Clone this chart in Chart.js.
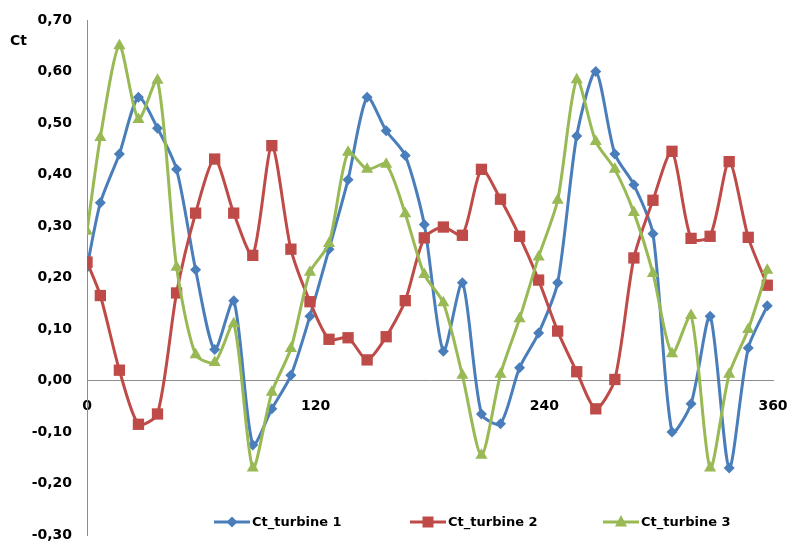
<!DOCTYPE html>
<html>
<head>
<meta charset="utf-8">
<script src="https://cdn.jsdelivr.net/npm/chart.js@4.4.1/dist/chart.umd.min.js"></script>
<style>
    html, body { margin: 0; padding: 0; background: #fff; }
    #contenedor { width: 795px; height: 541px; }
</style>
</head>
<body>
<div id="contenedor"><canvas id="graficoCt" width="795" height="541"></canvas></div>
<script>
// Angulos (grados) de cada medida
const angulos = [0, 7, 17, 27, 37, 47, 57, 67, 77, 87, 97, 107, 117, 127, 137, 147, 157, 167, 177,
    187, 197, 207, 217, 227, 237, 247, 257, 267, 277, 287, 297, 307, 317, 327, 337, 347, 357];

// Coeficiente Ct de cada turbina
const ctTurbina1 = [0.22, 0.345, 0.44, 0.55, 0.49, 0.41, 0.215, 0.06, 0.155, -0.125, -0.055, 0.01, 0.125,
    0.255, 0.39, 0.55, 0.485, 0.437, 0.303, 0.057, 0.19, -0.065, -0.084, 0.025, 0.092, 0.19, 0.475,
    0.60, 0.44, 0.38, 0.285, -0.10, -0.045, 0.125, -0.17, 0.063, 0.145];
const ctTurbina2 = [0.23, 0.165, 0.02, -0.085, -0.065, 0.17, 0.325, 0.43, 0.325, 0.243, 0.456, 0.255, 0.153,
    0.08, 0.083, 0.04, 0.085, 0.155, 0.277, 0.298, 0.282, 0.41, 0.352, 0.28, 0.195, 0.096, 0.017,
    -0.055, 0.002, 0.238, 0.35, 0.445, 0.276, 0.28, 0.425, 0.278, 0.185];
const ctTurbina3 = [0.29, 0.472, 0.65, 0.507, 0.583, 0.22, 0.05, 0.035, 0.11, -0.17, -0.023, 0.062, 0.21,
    0.266, 0.443, 0.41, 0.42, 0.324, 0.206, 0.151, 0.01, -0.145, 0.012, 0.12, 0.24, 0.35, 0.584,
    0.464, 0.41, 0.326, 0.208, 0.052, 0.126, -0.17, 0.012, 0.099, 0.214];

const nombresSeries = ['Ct_turbine 1', 'Ct_turbine 2', 'Ct_turbine 3'];
const etiquetasX = [0, 120, 240, 360];
const etiquetasY = [-0.3, -0.2, -0.1, 0, 0.1, 0.2, 0.3, 0.4, 0.5, 0.6, 0.7];

const fuenteEjes = { family: 'DejaVu Sans', size: 14, weight: 'bold', lineHeight: 1.2 };

function puntos(valores) {
    return valores.map((v, i) => ({ x: angulos[i], y: v }));
}

// Dibuja un marcador sencillo (rombo, cuadrado o triangulo)
function dibujarMarcador(ctx, tipo, x, y, color) {
    ctx.fillStyle = color;
    ctx.beginPath();
    if (tipo === 'rectRot') {
        ctx.moveTo(x, y - 5.5); ctx.lineTo(x + 5.5, y); ctx.lineTo(x, y + 5.5); ctx.lineTo(x - 5.5, y);
    } else if (tipo === 'rect') {
        ctx.rect(x - 5.5, y - 5.5, 11, 11);
    } else {
        ctx.moveTo(x, y - 7); ctx.lineTo(x + 6, y + 4.5); ctx.lineTo(x - 6, y + 4.5);
    }
    ctx.closePath();
    ctx.fill();
}

// Leyenda dentro del area del grafico y etiqueta "Ct"
const pluginLeyenda = {
    id: 'leyendaCt',
    afterDraw(chart) {
        const ctx = chart.ctx;
        ctx.save();
        ctx.fillStyle = '#000';
        ctx.font = 'bold 14px "DejaVu Sans"';
        ctx.textBaseline = 'middle';
        ctx.textAlign = 'left';
        ctx.fillText('Ct', 10, 41);

        const inicios = [214, 410, 603];
        const yLeyenda = 522;
        chart.data.datasets.forEach((ds, i) => {
            const x0 = inicios[i];
            ctx.strokeStyle = ds.borderColor;
            ctx.lineWidth = 3;
            ctx.beginPath();
            ctx.moveTo(x0, yLeyenda);
            ctx.lineTo(x0 + 36, yLeyenda);
            ctx.stroke();
            dibujarMarcador(ctx, ds.pointStyle, x0 + 18, yLeyenda, ds.borderColor);
            ctx.fillStyle = '#000';
            ctx.font = 'bold 13px "DejaVu Sans"';
            ctx.fillText(ds.label, x0 + 38, yLeyenda + 1);
        });
        ctx.restore();
    }
};

const series = [
    { datos: ctTurbina1, color: '#4A7EBB', marcador: 'rectRot', radio: 5.5, orden: 2 },
    { datos: ctTurbina2, color: '#BE4B48', marcador: 'rect', radio: 8, orden: 1 },
    { datos: ctTurbina3, color: '#98B954', marcador: 'triangle', radio: 7, orden: 0 }
];

const ctx = document.getElementById('graficoCt').getContext('2d');
const grafico = new Chart(ctx, {
    type: 'line',
    data: {
        datasets: series.map((s, i) => ({
            label: nombresSeries[i],
            data: puntos(s.datos),
            borderColor: s.color,
            backgroundColor: s.color,
            borderWidth: 3,
            pointStyle: s.marcador,
            pointRadius: s.radio,
            pointBorderWidth: 0,
            tension: 0.25,
            order: s.orden
        }))
    },
    options: {
        responsive: false,
        animation: false,
        layout: { autoPadding: false, padding: { left: 0, right: 22, top: 20, bottom: 6 } },
        plugins: {
            legend: { display: false },
            tooltip: { enabled: false }
        },
        scales: {
            x: {
                type: 'linear',
                min: 0,
                max: 360,
                position: { y: 0 },
                afterBuildTicks: (escala) => { escala.ticks = etiquetasX.map(v => ({ value: v })); },
                afterFit: (escala) => {
                    escala.height = 0;
                    escala.paddingLeft = 0;
                    escala.paddingRight = 0;
                },
                grid: { display: false, drawTicks: false },
                border: { display: true, color: '#8C8C8C', width: 1 },
                ticks: { color: '#000', font: fuenteEjes, padding: 17, maxRotation: 0 }
            },
            y: {
                type: 'linear',
                min: -0.3,
                max: 0.7,
                afterBuildTicks: (escala) => { escala.ticks = etiquetasY.map(v => ({ value: v })); },
                afterFit: (escala) => {
                    escala.width = 87;
                    escala.paddingTop = 0;
                    escala.paddingBottom = 0;
                },
                grid: { display: false, drawTicks: false },
                border: { display: true, color: '#8C8C8C', width: 1 },
                ticks: {
                    color: '#000',
                    font: fuenteEjes,
                    padding: 15,
                    callback: (v) => v.toFixed(2).replace('.', ',')
                }
            }
        }
    },
    plugins: [pluginLeyenda]
});
</script>
</body>
</html>
